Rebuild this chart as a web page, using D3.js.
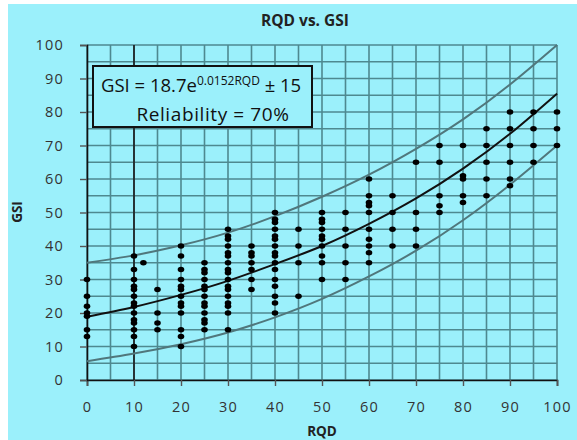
<!DOCTYPE html>
<html>
<head>
<meta charset="utf-8">
<script src="https://cdnjs.cloudflare.com/ajax/libs/d3/7.8.5/d3.min.js"></script>
<style>
  body { margin: 0; background: #fff; }
  text { font-family: "Open Sans", "Liberation Sans", sans-serif; }
</style>
</head>
<body>
<div class="chart"></div>
<script>
const width = 577;
const height = 440;

// RQD columns and the GSI values measured at each one
const rqdCols = [0, 10, 12, 15, 20, 25, 30, 35, 40, 45, 50, 55, 60, 65, 70, 75, 80, 85, 90, 95, 100];
const gsiCols = [
  [30, 25, 22, 20, 19, 15, 13],
  [37, 33, 30, 28, 27, 25, 23, 22, 20, 18, 17, 15, 13, 10],
  [35],
  [27, 20, 17, 15],
  [40, 37, 33, 30, 28, 27, 25, 23, 22, 20, 15, 13, 10],
  [35, 33, 32, 30, 28, 27, 25, 23, 22, 20, 18, 17, 15],
  [45, 43, 42, 40, 38, 37, 35, 33, 32, 30, 28, 27, 25, 23, 22, 20, 15],
  [40, 38, 37, 35, 33, 30, 27],
  [50, 48, 47, 45, 43, 42, 40, 38, 37, 35, 33, 30, 28, 25, 23, 20],
  [45, 40, 35, 25],
  [50, 48, 47, 45, 43, 42, 40, 37, 35, 30],
  [50, 45, 40, 35, 30],
  [60, 55, 53, 52, 50, 45, 42, 40, 38, 35],
  [55, 50, 45, 40],
  [65, 50, 45, 40],
  [70, 65, 55, 52, 50],
  [70, 61, 60, 55, 53],
  [75, 70, 65, 60, 55],
  [80, 75, 70, 65, 60, 58],
  [80, 75, 70, 65],
  [80, 75, 70]
];

// curves
const curveRqd = [0, 10, 20, 30, 40, 50, 60, 70, 80, 90, 100];
const fitGsi   = [18.9, 21.8, 25.4, 29.6, 34.6, 40, 46.6, 54.2, 63.1, 73.5, 85.5];
const upperGsi = [35, 37.2, 40.2, 44, 48.9, 54.7, 61.3, 69, 77.8, 88.2, 100];
const lowerGsi = [5.6, 7.9, 10.7, 14.2, 18.7, 24.2, 30.9, 38.6, 47.7, 58.3, 70];

const xTicks = [0, 10, 20, 30, 40, 50, 60, 70, 80, 90, 100];
const yTicks = [0, 10, 20, 30, 40, 50, 60, 70, 80, 90, 100];

const points = [];
rqdCols.forEach((r, i) => gsiCols[i].forEach(g => points.push({ rqd: r, gsi: g })));

const svg = d3.select(".chart").append("svg")
  .attr("width", width)
  .attr("height", height);

svg.append("rect")
  .attr("x", 8).attr("y", 4)
  .attr("width", width - 8).attr("height", height - 4)
  .attr("fill", "#9bf0fb");

const xScale = d3.scaleLinear().domain([0, 100]).range([87, 557]);
const yScale = d3.scaleLinear().domain([0, 100]).range([380, 45]);

const gridVals = d3.range(0, 101, 5);
const grid = svg.append("g").attr("stroke", "#4e8990").attr("stroke-width", 1.6);
grid.selectAll("line.v").data(gridVals).enter().append("line")
  .attr("x1", d => xScale(d)).attr("x2", d => xScale(d))
  .attr("y1", yScale(0)).attr("y2", yScale(100));
grid.selectAll("line.h").data(gridVals).enter().append("line")
  .attr("x1", xScale(0)).attr("x2", xScale(100))
  .attr("y1", d => yScale(d)).attr("y2", d => yScale(d));

// dark reference line at RQD = 10
svg.append("line")
  .attr("x1", xScale(10)).attr("x2", xScale(10))
  .attr("y1", yScale(0)).attr("y2", yScale(100))
  .attr("stroke", "#1a1a1a").attr("stroke-width", 1.6);

const xAxis = d3.axisBottom(xScale).tickValues(xTicks).tickSize(6).tickPadding(16);
const gx = svg.append("g")
  .attr("transform", "translate(0," + yScale(0) + ")")
  .call(xAxis);
gx.select(".domain").attr("stroke", "#111").attr("stroke-width", 1.6);
gx.selectAll(".tick line").attr("stroke", "#555").attr("stroke-width", 1.4);
gx.selectAll(".tick text")
  .attr("font-size", 14.5).attr("fill", "#333")
  .attr("letter-spacing", 1.2)
  .attr("font-family", "Open Sans, sans-serif");

const yAxis = d3.axisLeft(yScale).tickValues(yTicks).tickSize(7).tickPadding(16);
const gy = svg.append("g")
  .attr("transform", "translate(" + xScale(0) + ",0)")
  .call(yAxis);
gy.select(".domain").attr("stroke", "#111").attr("stroke-width", 1.6);
gy.selectAll(".tick line").attr("stroke", "#555").attr("stroke-width", 1.4);
gy.selectAll(".tick text")
  .attr("font-size", 14.5).attr("fill", "#333")
  .attr("letter-spacing", 1.2)
  .attr("font-family", "Open Sans, sans-serif");

const line = d3.line()
  .x((d, i) => xScale(curveRqd[i]))
  .y(d => yScale(d))
  .curve(d3.curveNatural);

svg.append("path").datum(upperGsi).attr("d", line)
  .attr("fill", "none").attr("stroke", "#50777c").attr("stroke-width", 2);
svg.append("path").datum(lowerGsi).attr("d", line)
  .attr("fill", "none").attr("stroke", "#50777c").attr("stroke-width", 2);
svg.append("path").datum(fitGsi).attr("d", line)
  .attr("fill", "none").attr("stroke", "#111").attr("stroke-width", 2);

svg.selectAll("ellipse.dot").data(points).enter().append("ellipse")
  .attr("class", "dot")
  .attr("cx", d => xScale(d.rqd))
  .attr("cy", d => yScale(d.gsi))
  .attr("rx", 3.3).attr("ry", 2.7)
  .attr("fill", "#000");

// equation box
svg.append("rect")
  .attr("x", 93).attr("y", 66)
  .attr("width", 219).attr("height", 61)
  .attr("fill", "#9bf0fb")
  .attr("stroke", "#111").attr("stroke-width", 2);

const eq = svg.append("text")
  .attr("x", 101).attr("y", 92)
  .attr("font-size", 18.5).attr("fill", "#111");
eq.append("tspan").text("GSI = 18.7e");
eq.append("tspan").attr("dy", -7).attr("font-size", 12).text("0.0152RQD");
eq.append("tspan").attr("dy", 7).text(" \u00b1 15");

svg.append("text")
  .attr("x", 213).attr("y", 121)
  .attr("text-anchor", "middle")
  .attr("font-size", 19).attr("letter-spacing", 0.6).attr("fill", "#111")
  .text("Reliability = 70%");

svg.append("text")
  .attr("x", 305).attr("y", 26)
  .attr("text-anchor", "middle")
  .attr("font-size", 15.5).attr("font-weight", "bold").attr("fill", "#222")
  .text("RQD vs. GSI");

svg.append("text")
  .attr("x", 322).attr("y", 436)
  .attr("text-anchor", "middle")
  .attr("font-size", 13.5).attr("font-weight", "bold").attr("fill", "#222")
  .text("RQD");

svg.append("text")
  .attr("transform", "translate(22,212) rotate(-90)")
  .attr("text-anchor", "middle")
  .attr("font-size", 13.5).attr("font-weight", "bold").attr("fill", "#222")
  .text("GSI");
</script>
</body>
</html>
